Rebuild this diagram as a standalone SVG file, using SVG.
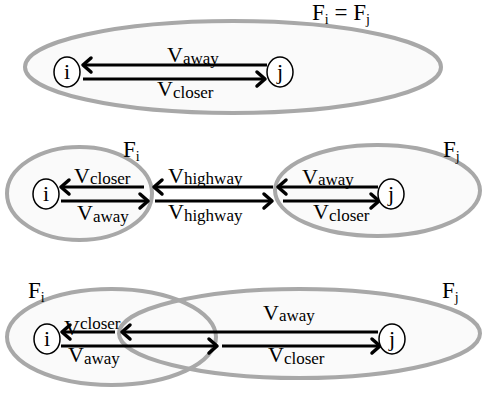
<svg xmlns="http://www.w3.org/2000/svg" width="483" height="395" viewBox="0 0 483 395">
<defs>
<marker id="chev" markerUnits="userSpaceOnUse" markerWidth="20" markerHeight="20" viewBox="-12 -10 20 20" refX="0" refY="0" orient="auto" overflow="visible">
<path d="M-8,-7 L0,0 L-8,7" fill="none" stroke="#000" stroke-width="3.5" stroke-linecap="round" stroke-linejoin="round"/>
</marker>
</defs>
<style>
.set{fill:#fafafa;stroke:none}
.setb{fill:none;stroke:#a8a8a8;stroke-width:4}
.node{fill:#fff;stroke:#000;stroke-width:1.5}
.arr{stroke:#000;stroke-width:3;fill:none;marker-end:url(#chev)}
.lab{font-size:22px}
.sub{font-size:17px}
.nl{font-size:22px;text-anchor:middle}
.fl{font-size:23px}
.fs{font-size:14px}
</style>
<rect width="483" height="395" fill="#fff"/>
<g id="fills">
<ellipse class="set" cx="233" cy="67" rx="208" ry="46"/>
<ellipse class="set" cx="79.5" cy="193.5" rx="72.5" ry="46.5"/>
<ellipse class="set" cx="377.5" cy="190.5" rx="102.5" ry="45.5"/>
<ellipse class="set" cx="111.5" cy="337" rx="104.5" ry="48"/>
<ellipse class="set" cx="299.5" cy="333.5" rx="180.5" ry="44.5"/>
</g>
<g font-family="'Liberation Serif', 'DejaVu Serif', 'Times New Roman', serif" fill="#000">
<g id="set-p1">
<ellipse class="setb" cx="233" cy="67" rx="208" ry="46"/>
<text class="fl" x="312" y="20">F<tspan class="fs" dy="4">i</tspan><tspan dy="-4"> = F</tspan><tspan class="fs" dy="4">j</tspan></text>
</g>
<g id="set-p2-Fi">
<ellipse class="setb" cx="79.5" cy="193.5" rx="72.5" ry="46.5"/>
<text class="fl" x="123" y="157">F<tspan class="fs" dy="4">i</tspan></text>
</g>
<g id="set-p2-Fj">
<ellipse class="setb" cx="377.5" cy="190.5" rx="102.5" ry="45.5"/>
<text class="fl" x="443" y="157">F<tspan class="fs" dy="4">j</tspan></text>
</g>
<g id="set-p3-Fi">
<ellipse class="setb" cx="111.5" cy="337" rx="104.5" ry="48"/>
<text class="fl" x="28" y="298">F<tspan class="fs" dy="4">i</tspan></text>
</g>
<g id="set-p3-Fj">
<ellipse class="setb" cx="299.5" cy="333.5" rx="180.5" ry="44.5"/>
<text class="fl" x="442" y="298">F<tspan class="fs" dy="4">j</tspan></text>
</g>
<g id="connectors">
<line class="arr" x1="267" y1="65" x2="83" y2="65"/>
<line class="arr" x1="83" y1="79" x2="265" y2="79"/>
<line class="arr" x1="144" y1="187" x2="61" y2="187"/>
<line class="arr" x1="61" y1="201" x2="148" y2="201"/>
<line class="arr" x1="273" y1="187" x2="154" y2="187"/>
<line class="arr" x1="155" y1="201" x2="272" y2="201"/>
<line class="arr" x1="378" y1="187" x2="278" y2="187"/>
<line class="arr" x1="283" y1="201" x2="379" y2="201"/>
<line class="arr" x1="378" y1="332" x2="122" y2="332"/>
<line class="arr" x1="115" y1="332" x2="62" y2="332"/>
<line class="arr" x1="61" y1="346" x2="217" y2="346"/>
<line class="arr" x1="222" y1="346" x2="380" y2="346"/>
</g>
<g id="labels">
<text class="lab" x="167" y="62">V<tspan class="sub" dy="2">away</tspan></text>
<text class="lab" x="157" y="96">V<tspan class="sub" dy="2">closer</tspan></text>
<text class="lab" x="74" y="183">V<tspan class="sub" dy="1">closer</tspan></text>
<text class="lab" x="77" y="220">V<tspan class="sub" dy="2">away</tspan></text>
<text class="lab" x="168" y="183">V<tspan class="sub" dy="1">highway</tspan></text>
<text class="lab" x="168" y="219">V<tspan class="sub" dy="2">highway</tspan></text>
<text class="lab" x="302" y="184">V<tspan class="sub" dy="1">away</tspan></text>
<text class="lab" x="313" y="219">V<tspan class="sub" dy="2">closer</tspan></text>
<text class="lab" x="64" y="335">V<tspan class="sub" dy="-6">closer</tspan></text>
<text class="lab" x="68" y="362">V<tspan class="sub" dy="2">away</tspan></text>
<text class="lab" x="263" y="320">V<tspan class="sub" dy="1">away</tspan></text>
<text class="lab" x="268" y="362">V<tspan class="sub" dy="2">closer</tspan></text>
</g>
<g id="p1-i"><ellipse class="node" cx="67" cy="72" rx="13" ry="15"/><text class="nl" x="67" y="79">i</text></g>
<g id="p1-j"><ellipse class="node" cx="280" cy="72" rx="13" ry="15"/><text class="nl" x="280" y="79">j</text></g>
<g id="p2-i"><ellipse class="node" cx="46" cy="194" rx="13" ry="15"/><text class="nl" x="46" y="201">i</text></g>
<g id="p2-j"><ellipse class="node" cx="391" cy="194" rx="13" ry="15"/><text class="nl" x="391" y="201">j</text></g>
<g id="p3-i"><ellipse class="node" cx="47" cy="339" rx="13" ry="15"/><text class="nl" x="47" y="346">i</text></g>
<g id="p3-j"><ellipse class="node" cx="392" cy="339" rx="13" ry="15"/><text class="nl" x="392" y="346">j</text></g>
</g>
</svg>
